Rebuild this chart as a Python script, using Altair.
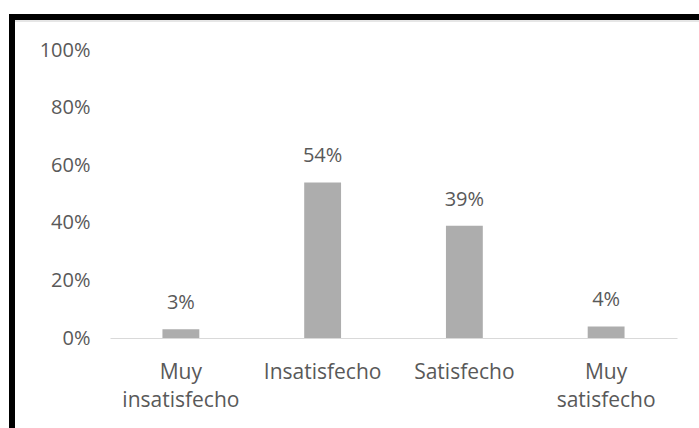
import altair as alt
import pandas as pd

categories = ["Muy insatisfecho", "Insatisfecho", "Satisfecho", "Muy satisfecho"]
values = [0.03, 0.54, 0.39, 0.04]
y_ticks = [0, 0.2, 0.4, 0.6, 0.8, 1.0]

df = pd.DataFrame({"cat": categories, "val": values})

FONT = "Open Sans"
TXT = "#595959"

base = alt.Chart(df)

x_enc = alt.X(
    "cat:N", sort=categories, title=None,
    scale=alt.Scale(paddingInner=0.74, paddingOuter=0.37),
    axis=alt.Axis(labelAngle=0, ticks=False, domainColor="#D9D9D9", domainWidth=1,
                  labelExpr="split(datum.label, ' ')", labelPadding=23,
                  labelLineHeight=28, labelFontSize=21, labelColor=TXT, labelFont=FONT),
)
y_enc = alt.Y(
    "val:Q", title=None,
    scale=alt.Scale(domain=[0, 1], nice=False),
    axis=alt.Axis(values=y_ticks, format=".0%", grid=False, domain=False, ticks=False,
                  labelPadding=20, labelFontSize=20, labelColor=TXT, labelFont=FONT),
)

bars = base.mark_bar(color="#ADADAD").encode(x=x_enc, y=y_enc)
labels = base.mark_text(baseline="middle", dy=-26, fontSize=20, color=TXT, font=FONT).encode(
    x=alt.X("cat:N", sort=categories),
    y=alt.Y("val:Q"),
    text=alt.Text("val:Q", format=".0%"),
)

border_data = alt.Data(values=[{"k": 1}])
shadow = alt.Chart(border_data).mark_rule(color="#E6E6E6", strokeWidth=2).encode(
    x=alt.value(-95), x2=alt.value(600), y=alt.value(-29)
)
top_border = alt.Chart(border_data).mark_rule(color="black", strokeWidth=6).encode(
    x=alt.value(-101), x2=alt.value(600), y=alt.value(-33)
)
left_border = alt.Chart(border_data).mark_rule(color="black", strokeWidth=6).encode(
    x=alt.value(-98), y=alt.value(-36), y2=alt.value(400)
)

chart = alt.layer(bars, labels, shadow, top_border, left_border).properties(
    width=567, height=288,
    autosize=alt.AutoSizeParams(type="none"),
    padding={"left": 110, "top": 50, "right": 22, "bottom": 90},
    background="white",
).configure_view(stroke=None)

chart.save("out.html", embed_options={"renderer": "svg", "actions": False})
